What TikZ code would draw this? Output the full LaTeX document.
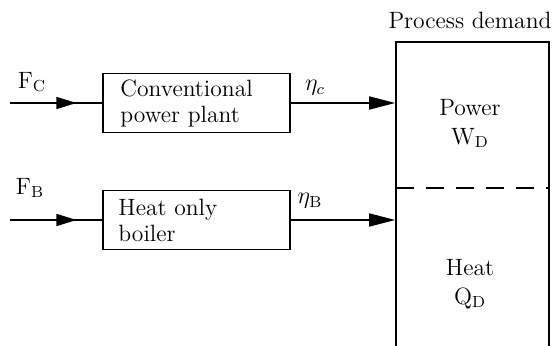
\documentclass[tikz,border=0pt]{standalone}
\usetikzlibrary{arrows.meta,decorations.markings}
\begin{document}
\begin{tikzpicture}[x=0.5pt,y=-0.5pt,
  line width=0.8pt,
  font=\fontsize{11.8}{14}\selectfont,
  blk/.style={draw, rectangle, minimum width=93.5pt, minimum height=29.5pt, inner sep=0pt},
  blktext/.style={align=left, anchor=west},
  inarrow/.style={postaction={decorate}, decoration={markings, mark=at position 0.72 with {\arrow{Triangle[length=10pt,width=6pt]}}}},
  outarrow/.style={-{Triangle[length=13pt,width=6.5pt]}},
  lbl/.style={inner sep=0pt}]
\useasboundingbox (0,0) rectangle (552,346);
\clip (0,0) rectangle (552,346);
% blocks
\node[blk] (b1) at (196.5,103) {};
\node[blk] (b2) at (196.5,220) {};
\node[blktext] (t1) at (113,103) {Conventional\\[-1pt]power plant};
\node[blktext] (t2) at (111,220) {Heat only\\[-1pt]boiler};
% demand box
\node[draw, rectangle, minimum width=76.5pt, minimum height=156pt, inner sep=0pt] (D) at (472.5,198) {};
\coordinate (dl) at (396,188);
\coordinate (dr) at (549,188);
\draw[dashed, dash pattern=on 9pt off 6pt] (dl) -- (dr);
\node[lbl] (pd) at (470,20) {Process demand};
\node[lbl] (pw) at (470,108) {Power};
\node[lbl] (wd) at (470,138) {W$_{\mathrm{D}}$};
\node[lbl] (ht) at (470,268) {Heat};
\node[lbl] (qd) at (470,298) {Q$_{\mathrm{D}}$};
% inputs
\coordinate (fcin) at (10,103);
\coordinate (fbin) at (10,220);
\draw[inarrow] (fcin) -- (b1.west);
\draw[inarrow] (fbin) -- (b2.west);
\node[lbl] (fc) at (32,82) {F$_{\mathrm{C}}$};
\node[lbl] (fb) at (30,188) {F$_{\mathrm{B}}$};
% outputs
\draw[outarrow] (b1.east) -- (b1.east -| D.west);
\draw[outarrow] (b2.east) -- (b2.east -| D.west);
\node[lbl] (ec) at (315,88) {$\eta_c$};
\node[lbl] (eb) at (310,201) {$\eta_{\mathrm{B}}$};
\end{tikzpicture}
\end{document}
